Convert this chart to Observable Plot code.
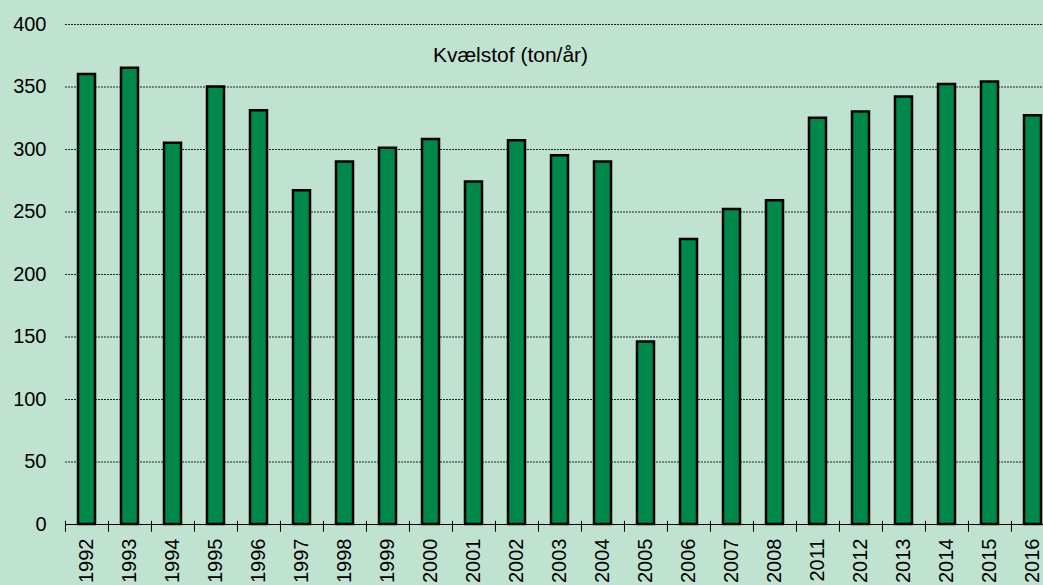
<!DOCTYPE html>
<html>
<head>
<meta charset="utf-8">
<script src="https://cdn.jsdelivr.net/npm/d3@7"></script>
<script src="https://cdn.jsdelivr.net/npm/@observablehq/plot@0.6"></script>
<style>
  html, body { margin: 0; padding: 0; background: #C0E2D1; overflow: hidden; }
  #chart svg { display: block; }
</style>
</head>
<body>
<div id="chart"></div>
<script>
const years = ["1992","1993","1994","1995","1996","1997","1998","1999","2000","2001","2002","2003","2004","2005","2006","2007","2008","2011","2012","2013","2014","2015","2016"];
const values = [360,365,305,350,331,267,290,301,308,274,307,295,290,146,228,252,259,325,330,342,352,354,327];
const yTicks = [0,50,100,150,200,250,300,350,400];
const gridTicks = [50,100,150,200,250,300,350,400];
const title = "Kvælstof (ton/år)";

const data = years.map((y, i) => ({year: y, value: values[i]}));

const W = 1043, H = 585;
const xRange = [65, 1055];
const step = (xRange[1] - xRange[0]) / years.length;

const chart = Plot.plot({
  width: W,
  height: H,
  marginLeft: 65,
  marginRight: 0,
  marginTop: 24,
  marginBottom: 61,
  style: {
    background: "#C0E2D1",
    fontFamily: "'Liberation Sans', Arial, sans-serif",
    fontSize: "20px",
    color: "black",
    overflow: "hidden"
  },
  x: {domain: years, range: xRange, paddingInner: 0.6, paddingOuter: 0.3, align: 0.5, label: null},
  y: {domain: [0, 400], label: null},
  marks: [
    Plot.ruleY(gridTicks, {stroke: "#222", strokeWidth: 1, strokeDasharray: "2,1"}),
    Plot.barY(data, {x: "year", y: "value", fill: "#00884B", stroke: "black", strokeWidth: 2.5}),
    Plot.ruleY([0], {stroke: "black", strokeWidth: 1}),
    Plot.ruleX(years, {x: d => d, dx: -step / 2, y1: 2.6, y2: -6.2, stroke: "black", strokeWidth: 1}),
    Plot.axisY({ticks: yTicks, tickSize: 0, tickPadding: 19, fontSize: 20}),
    Plot.axisX({tickRotate: -90, tickSize: 0, tickPadding: 14, fontSize: 20}),
    Plot.text([title], {frameAnchor: "top", lineAnchor: "middle", dy: 31, dx: -44, fontSize: 21, fill: "black"})
  ]
});
document.getElementById("chart").appendChild(chart);
</script>
</body>
</html>
